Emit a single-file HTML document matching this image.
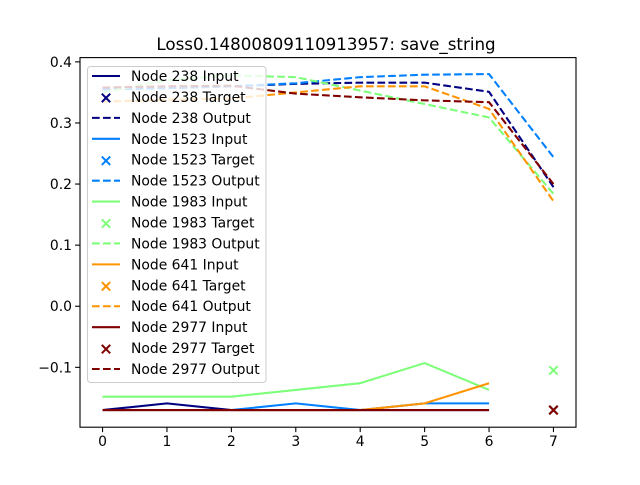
<!DOCTYPE html>
<html><head><meta charset="utf-8"><style>
body{margin:0;background:#fff}
svg text{font-family:"DejaVu Sans","Liberation Sans",sans-serif}
</style></head><body>
<svg id="chart" width="640" height="480" xmlns="http://www.w3.org/2000/svg">
<rect width="640" height="480" fill="#fff"/>
<text x="326" y="50" font-size="16.7" text-anchor="middle">Loss0.14800809110913957: save_string</text>
<g id="plot"></g>
<g id="axes"></g>
<g id="legend"></g>
</svg>
<script>
const xCats=[0,1,2,3,4,5,6,7];
const yTicks=[0.4,0.3,0.2,0.1,0.0,-0.1];
const yTickLabels=["0.4","0.3","0.2","0.1","0.0","\u22120.1"];
const seriesNames=["Node 238","Node 1523","Node 1983","Node 641","Node 2977"];
const seriesColors=["#000080","#0080ff","#7dff7a","#ff9400","#800000"];
const input238=[-0.17,-0.159,-0.17,-0.17,-0.17,-0.17,-0.17];
const input1523=[-0.17,-0.17,-0.17,-0.159,-0.17,-0.159,-0.159];
const input1983=[-0.148,-0.148,-0.148,-0.137,-0.126,-0.093,-0.137];
const input641=[-0.17,-0.17,-0.17,-0.17,-0.17,-0.159,-0.126];
const input2977=[-0.17,-0.17,-0.17,-0.17,-0.17,-0.17,-0.17];
const target238=-0.17, target1523=-0.17, target1983=-0.105, target641=-0.17, target2977=-0.17;
const output238=[0.355,0.357,0.36,0.364,0.366,0.366,0.351,0.195];
const output1523=[0.355,0.357,0.36,0.365,0.375,0.379,0.38,0.244];
const output1983=[0.35,0.37,0.378,0.375,0.353,0.331,0.309,0.184];
const output641=[0.335,0.338,0.34,0.35,0.36,0.36,0.323,0.172];
const output2977=[0.358,0.36,0.361,0.348,0.342,0.337,0.334,0.2];

const inputs=[input238,input1523,input1983,input641,input2977];
const targets=[target238,target1523,target1983,target641,target2977];
const outputs=[output238,output1523,output1983,output641,output2977];

const L=80,R=576,T=57.6,B=427.2;
const xmin=-0.35,xmax=7.35,ymin=-0.198,ymax=0.407;
const sx=v=>L+(v-xmin)/(xmax-xmin)*(R-L);
const sy=v=>B-(v-ymin)/(ymax-ymin)*(B-T);
const NS="http://www.w3.org/2000/svg";
const LW=2.08, DASH='7.7,3.3';
function mk(tag,attrs,parent){const e=document.createElementNS(NS,tag);for(const k in attrs)e.setAttribute(k,attrs[k]);parent.appendChild(e);return e;}
const plot=document.getElementById('plot'),axes=document.getElementById('axes'),leg=document.getElementById('legend');

function pts(arr){return arr.map((v,i)=>sx(xCats[i]).toFixed(2)+","+sy(v).toFixed(2)).join(" ");}
function cross(cx,cy,col,parent,name){
  const g=mk('g',{},parent);
  
  
  const s=4.2;
  mk('line',{x1:cx-s,y1:cy-s,x2:cx+s,y2:cy+s,stroke:col,'stroke-width':2},g);
  mk('line',{x1:cx-s,y1:cy+s,x2:cx+s,y2:cy-s,stroke:col,'stroke-width':2},g);
}
for(let i=0;i<seriesNames.length;i++){
  const slug=seriesNames[i].toLowerCase().replace(' ','-');
  const a=mk('polyline',{points:pts(inputs[i]),fill:'none',stroke:seriesColors[i],'stroke-width':LW},plot);
  
  
  cross(sx(xCats[7]),sy(targets[i]),seriesColors[i],plot,slug+'-target-marker');
  const b=mk('polyline',{points:pts(outputs[i]),fill:'none',stroke:seriesColors[i],'stroke-width':LW,'stroke-dasharray':DASH},plot);
  
  
}
const fr=mk('rect',{x:L,y:T,width:R-L,height:B-T,fill:'none',stroke:'#000','stroke-width':1.1},axes);


xCats.forEach(v=>{
  const x=sx(v);
  mk('line',{x1:x,y1:B,x2:x,y2:B+4.9,stroke:'#000','stroke-width':1.1},axes);
  const t=mk('text',{x:x,y:B+19,'font-size':13.9,'text-anchor':'middle'},axes);
  t.textContent=String(v);
  
  
});
yTicks.forEach((v,i)=>{
  const y=sy(v);
  mk('line',{x1:L-4.9,y1:y,x2:L,y2:y,stroke:'#000','stroke-width':1.1},axes);
  const t=mk('text',{x:L-8,y:y+5,'font-size':13.9,'text-anchor':'end'},axes);
  t.textContent=yTickLabels[i];
  
  
});
const box=mk('rect',{x:87.5,y:66.5,width:178.5,height:316,rx:3,fill:'#fff','fill-opacity':0.8,stroke:'#ccc','stroke-width':1},leg);


let row=0;
for(let i=0;i<seriesNames.length;i++){
  const kinds=["Input","Target","Output"];
  kinds.forEach(k=>{
    const y=76+row*20.93;
    const g=mk('g',{},leg);
    
    
    if(k==="Input") mk('line',{x1:92,y1:y,x2:120,y2:y,stroke:seriesColors[i],'stroke-width':LW},g);
    else if(k==="Output") mk('line',{x1:92,y1:y,x2:120,y2:y,stroke:seriesColors[i],'stroke-width':LW,'stroke-dasharray':DASH},g);
    else { const s=4.2; mk('line',{x1:106-s,y1:y-s+1,x2:106+s,y2:y+s+1,stroke:seriesColors[i],'stroke-width':2},g); mk('line',{x1:106-s,y1:y+s+1,x2:106+s,y2:y-s+1,stroke:seriesColors[i],'stroke-width':2},g); }
    const t=mk('text',{x:131,y:y+5,'font-size':13.9},g);
    t.textContent=seriesNames[i]+" "+k;
    row++;
  });
}
</script>
</body></html>
